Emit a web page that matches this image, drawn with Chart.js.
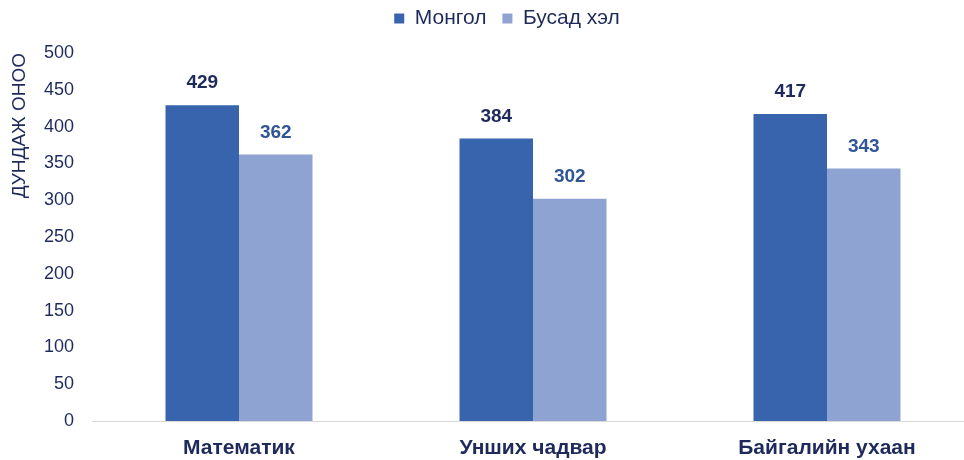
<!DOCTYPE html>
<html>
<head>
<meta charset="utf-8">
<script src="https://cdn.jsdelivr.net/npm/chart.js@4/dist/chart.umd.min.js"></script>
<style>
html,body{margin:0;padding:0;background:#fff;overflow:hidden;}
#wrap{width:974px;height:460px;position:relative;}
</style>
</head>
<body>
<div id="wrap"><canvas id="c"></canvas></div>
<script>
const categories = ["Математик", "Унших чадвар", "Байгалийн ухаан"];
const mongolValues = [429, 384, 417];
const otherValues = [362, 302, 343];
const seriesNames = ["Монгол", "Бусад хэл"];
const yTitle = "ДУНДАЖ ОНОО";

const navy = "#1F2A5C";
const darkBar = "#3864AE";
const lightBar = "#8FA3D2";

const valueLabels = {
  id: "valueLabels",
  afterDatasetsDraw(chart) {
    const ctx = chart.ctx;
    ctx.save();
    ctx.font = "bold 19px 'Liberation Sans', Arial, sans-serif";
    ctx.textAlign = "center";
    ctx.textBaseline = "middle";
    chart.data.datasets.forEach((ds, i) => {
      const meta = chart.getDatasetMeta(i);
      ctx.fillStyle = i === 0 ? navy : "#2F5597";
      meta.data.forEach((bar, j) => {
        ctx.fillText(String(ds.data[j]), bar.x, bar.y - 22);
      });
    });
    ctx.restore();
  }
};

const legendSpacing = {
  id: "legendSpacing",
  beforeInit(chart) {
    const origFit = chart.legend.fit;
    chart.legend.fit = function () {
      origFit.bind(chart.legend)();
      this.height += 14;
    };
  },
  afterLayout(chart) {
    chart.legend.left += 20;
    chart.legend.right += 20;
  }
};

new Chart(document.getElementById("c"), {
  type: "bar",
  data: {
    labels: categories,
    datasets: [
      { label: seriesNames[0], data: mongolValues, backgroundColor: darkBar, borderWidth: 0 },
      { label: seriesNames[1], data: otherValues, backgroundColor: lightBar, borderWidth: 0 }
    ]
  },
  options: {
    responsive: true,
    maintainAspectRatio: false,
    animation: false,
    layout: { padding: { top: -8, right: 0, left: 0, bottom: 0 } },
    datasets: { bar: { barPercentage: 1, categoryPercentage: 0.5 } },
    plugins: {
      tooltip: { enabled: false },
      legend: {
        position: "top",
        labels: {
          color: navy,
          font: { family: "'Liberation Sans', Arial, sans-serif", size: 21 },
          boxWidth: 10,
          boxHeight: 10,
          padding: 16
        }
      }
    },
    scales: {
      x: {
        grid: { display: false, drawTicks: false },
        border: { display: true, color: "#D9D9D9", width: 1 },
        ticks: {
          color: navy,
          padding: 15,
          font: { family: "'Liberation Sans Narrow', 'Arial Narrow', 'Liberation Sans', sans-serif", size: 21, weight: "bold" }
        },
        afterFit(scale) { scale.height = 39; }
      },
      y: {
        min: 0,
        max: 500,
        grid: { display: false, drawTicks: false },
        border: { display: false },
        ticks: {
          stepSize: 50,
          color: navy,
          padding: 18,
          font: { family: "'Liberation Sans', Arial, sans-serif", size: 18 }
        },
        title: {
          display: true,
          text: yTitle,
          align: "end",
          color: navy,
          padding: { top: 8, bottom: 0 },
          font: { family: "'Liberation Sans', Arial, sans-serif", size: 19 }
        },
        afterFit(scale) { scale.width = 92; }
      }
    }
  },
  plugins: [valueLabels, legendSpacing]
});
</script>
</body>
</html>
